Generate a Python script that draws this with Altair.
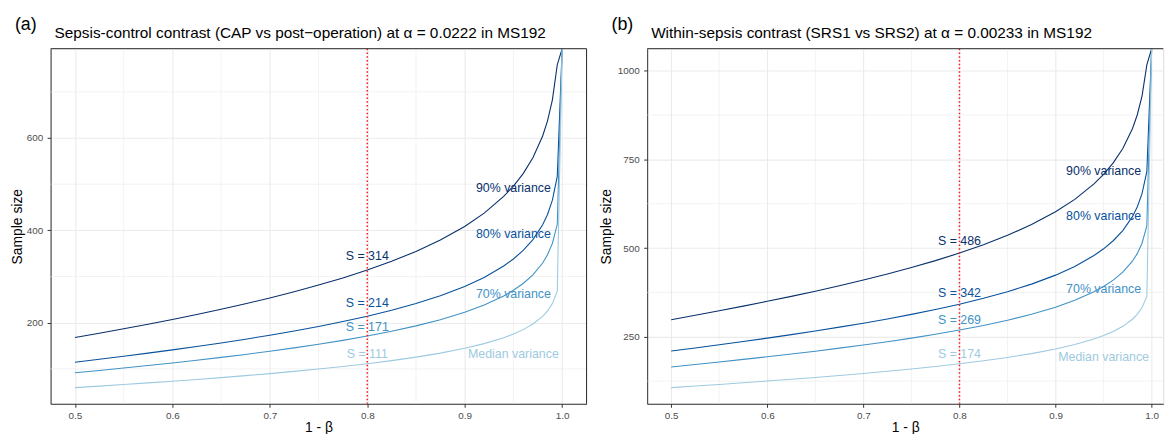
import altair as alt
import pandas as pd

FONT = "Liberation Sans"

# ---------------- data ----------------
power = [0.500, 0.525, 0.550, 0.575, 0.600, 0.625, 0.650, 0.675, 0.700, 0.725,
         0.750, 0.775, 0.800, 0.825, 0.850, 0.875, 0.900, 0.920, 0.940, 0.950,
         0.960, 0.970, 0.980, 0.985, 0.990, 0.995, 1.000]

groups = ["90%", "80%", "70%", "Median"]
colors = ["#08306B", "#08519C", "#4292C6", "#9ECAE1"]

# panel (a): sepsis-control contrast (last point = curve leaves the top of the panel)
a_90 = [167.8, 177.1, 186.7, 196.7, 207.0, 217.8, 229.1, 241.0, 253.6, 267.0,
        281.4, 296.9, 314.0, 332.9, 354.3, 379.0, 408.5, 437.3, 473.5, 495.9,
        523.0, 557.2, 604.4, 637.3, 682.7, 758.6, 793.6]
a_80 = [114.4, 120.7, 127.3, 134.0, 141.1, 148.4, 156.1, 164.2, 172.8, 181.9,
        191.8, 202.4, 214.0, 226.9, 241.5, 258.3, 278.4, 298.0, 322.7, 338.0,
        356.4, 379.8, 411.9, 434.3, 465.3, 517.0, 793.6]
a_70 = [91.4, 96.5, 101.7, 107.1, 112.7, 118.6, 124.8, 131.2, 138.1, 145.4,
        153.2, 161.7, 171.0, 181.3, 193.0, 206.4, 222.5, 238.1, 257.8, 270.1,
        284.8, 303.5, 329.2, 347.1, 371.8, 413.1, 793.6]
a_med = [59.3, 62.6, 66.0, 69.5, 73.2, 77.0, 81.0, 85.2, 89.6, 94.4,
         99.5, 105.0, 111.0, 117.7, 125.3, 134.0, 144.4, 154.6, 167.4, 175.3,
         184.9, 197.0, 213.7, 225.3, 241.4, 268.2, 793.6]

# panel (b): within-sepsis contrast
b_90 = [298.3, 310.7, 323.4, 336.5, 350.0, 364.0, 378.6, 393.8, 409.9, 426.9,
        445.1, 464.7, 486.0, 509.5, 535.9, 566.3, 602.3, 637.2, 680.8, 707.7,
        740.0, 780.7, 836.4, 875.1, 928.3, 1016.5, 1062.0]
b_80 = [209.9, 218.6, 227.6, 236.8, 246.3, 256.1, 266.4, 277.2, 288.4, 300.4,
        313.2, 327.0, 342.0, 358.6, 377.1, 398.5, 423.8, 448.4, 479.0, 498.0,
        520.7, 549.4, 588.6, 615.8, 653.2, 715.3, 1062.0]
b_70 = [165.1, 172.0, 179.0, 186.3, 193.7, 201.5, 209.5, 218.0, 226.9, 236.3,
        246.4, 257.2, 269.0, 282.0, 296.6, 313.4, 333.4, 352.7, 376.8, 391.7,
        409.6, 432.1, 463.0, 484.4, 513.8, 562.6, 1062.0]
b_med = [106.8, 111.2, 115.8, 120.5, 125.3, 130.3, 135.5, 141.0, 146.8, 152.9,
         159.4, 166.4, 174.0, 182.4, 191.9, 202.7, 215.6, 228.1, 243.7, 253.4,
         264.9, 279.5, 299.5, 313.3, 332.3, 363.9, 1062.0]

a_s_text = ["S = 314", "S = 214", "S = 171", "S = 111"]
a_s_y = [345, 242, 191, 131]
a_v_y = [492, 392, 263, 131]
b_s_text = ["S = 486", "S = 342", "S = 269", "S = 174"]
b_s_y = [521, 372, 298, 202]
b_v_y = [718, 590, 385, 194]
var_text = ["90% variance", "80% variance", "70% variance", "Median variance"]
s_x = 0.8
v_x = 0.95
alpha_line = [0.8]

x_major = [0.5, 0.6, 0.7, 0.8, 0.9, 1.0]
x_minor = [0.55, 0.65, 0.75, 0.85, 0.95]
a_y_major = [200, 400, 600]
a_y_minor = [100, 300, 500, 700]
b_y_major = [250, 500, 750, 1000]
b_y_minor = [125, 375, 625, 875]

title_a = "Sepsis-control contrast (CAP vs post\u2212operation) at \u03b1 = 0.0222 in MS192"
title_b = "Within-sepsis contrast (SRS1 vs SRS2) at \u03b1 = 0.00233 in MS192"

H = 358.5
BORDER = "#333333"
GRID = "#EBEBEB"
TOP_EXTENT = -38.1


def panel(tag, title, series, s_text, s_y, v_y, x_dom, y_dom, y_major, y_minor,
          width, ytitle_x, right_border, left_extent, right_extent):
    xaxis = alt.Axis(values=x_major, format=".1f", title="1 - \u03b2",
                     titleFont=FONT, titleFontSize=14, titleFontWeight="normal",
                     titleColor="black", titleBaseline="alphabetic", titleY=27.5,
                     labelFont=FONT, labelFontSize=10, labelColor="#4D4D4D",
                     labelPadding=3.1, labelFlush=False, tickSize=3.5,
                     tickColor=BORDER, tickWidth=1, grid=True, gridColor=GRID,
                     gridWidth=1.1, domain=True, domainColor=BORDER, domainWidth=1)
    yaxis = alt.Axis(values=y_major, format="d", title="Sample size",
                     titleFont=FONT, titleFontSize=14, titleFontWeight="normal",
                     titleColor="black", titleAngle=270, titleBaseline="alphabetic",
                     titleAlign="center", titleX=ytitle_x, titleY=H / 2,
                     labelFont=FONT, labelFontSize=10, labelColor="#4D4D4D",
                     labelPadding=4.5, labelFlush=False, tickSize=3.5,
                     tickColor=BORDER, tickWidth=1, grid=True, gridColor=GRID,
                     gridWidth=1.1, domain=True, domainColor=BORDER, domainWidth=1)

    def X():
        return alt.X("power:Q", scale=alt.Scale(domain=x_dom, nice=False, zero=False),
                     axis=xaxis)

    def Y():
        return alt.Y("n:Q", scale=alt.Scale(domain=y_dom, nice=False, zero=False),
                     axis=yaxis)

    C = alt.Color("group:N", scale=alt.Scale(domain=groups, range=colors), legend=None)

    rows = []
    for g, vals in zip(groups, series):
        for p, v in zip(power, vals):
            rows.append({"power": p, "n": v, "group": g})
    df = pd.DataFrame(rows)

    one = pd.DataFrame({"k": [0]})

    # invisible frame that fixes the panel's layout extent
    extent = alt.Chart(one).mark_rule(opacity=0, strokeWidth=1).encode(
        x=alt.value(left_extent), x2=alt.value(right_extent),
        y=alt.value(TOP_EXTENT), y2=alt.value(0))
    xminor = alt.Chart(pd.DataFrame({"power": x_minor})).mark_rule(
        color=GRID, strokeWidth=0.6).encode(x=X())
    yminor = alt.Chart(pd.DataFrame({"n": y_minor})).mark_rule(
        color=GRID, strokeWidth=0.6).encode(y=Y())
    lines = alt.Chart(df).mark_line(clip=True, strokeWidth=1.1).encode(
        x=X(), y=Y(), color=C)
    vline = alt.Chart(pd.DataFrame({"power": alpha_line, "kind": ["alpha"]})).mark_rule(
        stroke="#FF1A1A", strokeWidth=1.5, strokeDash=[1.5, 2.3]).encode(x=X())
    s_lab = alt.Chart(pd.DataFrame({"power": [s_x] * 4, "n": s_y, "label": s_text,
                                    "group": groups})).mark_text(
        align="center", baseline="middle", font=FONT, fontSize=12.5).encode(
        x=X(), y=Y(), text="label:N", color=C)
    v_lab = alt.Chart(pd.DataFrame({"power": [v_x] * 4, "n": v_y, "label": var_text,
                                    "group": groups})).mark_text(
        align="center", baseline="middle", font=FONT, fontSize=12.5).encode(
        x=X(), y=Y(), text="label:N", color=C)
    tag_t = alt.Chart(pd.DataFrame({"t": [tag]})).mark_text(
        align="left", baseline="alphabetic", font=FONT, fontSize=18,
        color="black").encode(x=alt.value(-36), y=alt.value(-19), text="t:N")
    title_t = alt.Chart(pd.DataFrame({"t": [title]})).mark_text(
        align="left", baseline="alphabetic", font=FONT, fontSize=15.5,
        color="black").encode(x=alt.value(4), y=alt.value(-10.3), text="t:N")
    top = alt.Chart(one).mark_rule(color=BORDER, strokeWidth=1).encode(
        x=alt.value(0), x2=alt.value(width), y=alt.value(0))
    layers = [extent, xminor, yminor, lines, vline, s_lab, v_lab, tag_t, title_t, top]
    if right_border:
        right = alt.Chart(one).mark_rule(color=BORDER, strokeWidth=1).encode(
            x=alt.value(width), y=alt.value(0), y2=alt.value(H))
        layers.append(right)
    return alt.layer(*layers).properties(width=width, height=H)


pa = panel("(a)", title_a, [a_90, a_80, a_70, a_med], a_s_text, a_s_y, a_v_y,
           [0.475, 1.025], [24.3, 793.6], a_y_major, a_y_minor, 541, -29, True,
           -42.5, 546)
pb = panel("(b)", title_b, [b_90, b_80, b_70, b_med], b_s_text, b_s_y, b_v_y,
           [0.475, 1.0121], [61.3, 1062.0], b_y_major, b_y_minor, 521, -37, False,
           -52, 0)

chart = alt.hconcat(pa, pb, spacing=2.25,
                    padding={"left": 0, "top": 0, "right": 0, "bottom": 0}
                    ).configure_view(stroke="transparent").configure(font=FONT)

chart.save("out.html", embed_options={"renderer": "svg", "actions": False})
